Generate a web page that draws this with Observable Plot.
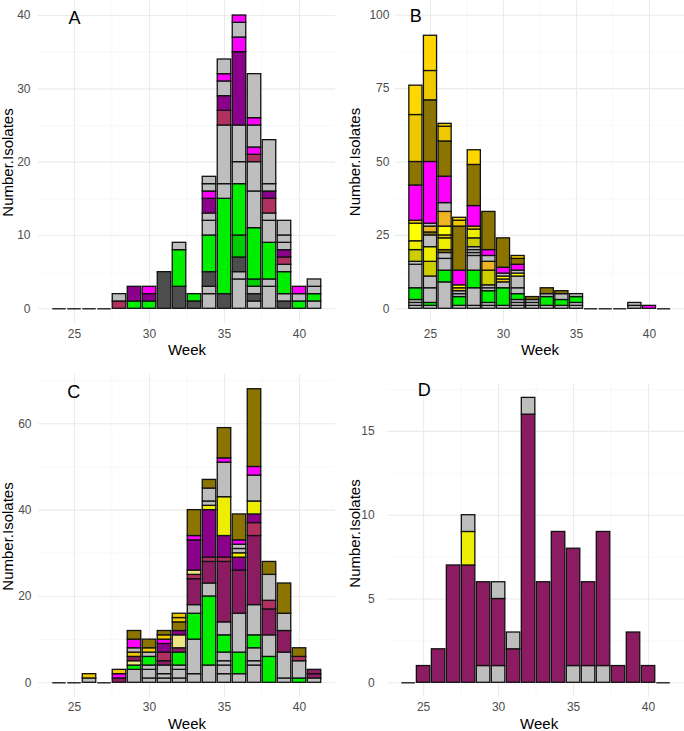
<!DOCTYPE html>
<html><head><meta charset="utf-8">
<script src="https://cdn.jsdelivr.net/npm/d3@7"></script>
<script src="https://cdn.jsdelivr.net/npm/@observablehq/plot@0.6"></script>
<style>
body{margin:0;background:#fff;}
#wrap{position:relative;width:684px;height:731px;overflow:hidden;font-family:"Liberation Sans",Arial,sans-serif;}
.panel{position:absolute;}
</style></head><body><div id="wrap"></div>
<script>
const weeks = [24,25,26,27,28,29,30,31,32,33,34,35,36,37,38,39,40,41];
const categories = ["gray","dkgray","green","green3","purple","magenta","maroon","maroon4","olive","gold","gold2","yellow","yellow2","yellow3","orange","khaki"];
const categoryColors = ["#BEBEBE","#4D4D4D","#00EE00","#00CD00","#8B008B","#FF00FF","#B03060","#8B1C62","#8B7500","#FFD700","#EEC900","#FFFF00","#EEEE00","#CDCD00","#EEB422","#EEE685"];
const xTicks = [25,30,35,40];
const xMinor = [27.5,32.5,37.5];

// [week, category, count], bottom to top
const segA = [
[28,"maroon",1],[28,"gray",1],
[29,"green",1],[29,"purple",2],
[30,"green",1],[30,"purple",1],[30,"magenta",1],
[31,"dkgray",5],
[32,"dkgray",3],[32,"green",5],[32,"gray",1],
[33,"dkgray",1],[33,"green",1],
[34,"gray",2],[34,"gray",1],[34,"dkgray",2],[34,"green",5],[34,"gray",2],[34,"gray",1],[34,"purple",2],[34,"magenta",1],[34,"gray",1],[34,"gray",1],
[35,"dkgray",2],[35,"green",13],[35,"gray",2],[35,"gray",8],[35,"maroon",2],[35,"purple",2],[35,"gray",2],[35,"magenta",1],[35,"gray",2],
[36,"gray",4],[36,"gray",1],[36,"dkgray",2],[36,"green3",3],[36,"green",7],[36,"gray",3],[36,"gray",5],[36,"purple",10],[36,"magenta",2],[36,"gray",2],[36,"magenta",1],
[37,"gray",1],[37,"dkgray",1],[37,"gray",1],[37,"green3",1],[37,"green",7],[37,"gray",5],[37,"gray",4],[37,"maroon",1],[37,"magenta",1],[37,"gray",3],[37,"magenta",1],[37,"gray",6],
[38,"gray",3],[38,"gray",1],[38,"green",5],[38,"gray",3],[38,"gray",1],[38,"maroon",2],[38,"purple",1],[38,"gray",1],[38,"gray",6],
[39,"dkgray",1],[39,"gray",1],[39,"green",3],[39,"gray",1],[39,"maroon",1],[39,"purple",1],[39,"gray",1],[39,"gray",1],[39,"gray",2],
[40,"green",1],[40,"gray",1],[40,"magenta",1],
[41,"gray",1],[41,"green",1],[41,"gray",1],[41,"gray",1]
];
const segB = [
[24,"gray",1],[24,"gray",1],[24,"gray",1],[24,"green",4],[24,"gray",8],[24,"gray",1],[24,"yellow3",4],[24,"yellow2",3],[24,"yellow",6],[24,"gold2",1],[24,"magenta",12],[24,"olive",8],[24,"gold2",16],[24,"gold",10],
[25,"gray",1],[25,"green",1],[25,"gray",5],[25,"gray",4],[25,"yellow3",5],[25,"yellow2",5],[25,"gray",4],[25,"olive",1],[25,"orange",2],[25,"gray",1],[25,"magenta",21],[25,"olive",21],[25,"gold2",10],[25,"gold",12],
[26,"gray",9],[26,"green",4],[26,"gray",4],[26,"gray",2],[26,"olive",1],[26,"yellow2",4],[26,"gold2",1],[26,"yellow",3],[26,"orange",5],[26,"gray",3],[26,"magenta",9],[26,"olive",12],[26,"gold2",5],[26,"gold2",1],
[27,"gray",1],[27,"green",3],[27,"gray",1],[27,"gray",1],[27,"gold2",1],[27,"yellow",1],[27,"magenta",5],[27,"olive",15],[27,"gold2",2],[27,"gold",1],
[28,"gray",1],[28,"gray",6],[28,"green",6],[28,"gray",5],[28,"gray",1],[28,"gray",1],[28,"gray",1],[28,"yellow3",3],[28,"yellow2",3],[28,"gold2",1],[28,"magenta",7],[28,"olive",14],[28,"gold",5],
[29,"gray",1],[29,"gray",1],[29,"green",4],[29,"gray",1],[29,"gray",1],[29,"yellow3",5],[29,"orange",3],[29,"gray",2],[29,"magenta",2],[29,"olive",13],
[30,"gray",1],[30,"green",6],[30,"gray",2],[30,"gold2",1],[30,"yellow",1],[30,"gray",1],[30,"magenta",2],[30,"olive",10],
[31,"gray",1],[31,"gray",1],[31,"gray",1],[31,"green",2],[31,"gray",2],[31,"gray",4],[31,"yellow",1],[31,"gray",1],[31,"magenta",2],[31,"olive",2],[31,"gold2",1],
[32,"gray",1],[32,"gray",1],[32,"gray",1],[32,"olive",1],
[33,"gray",1],[33,"green",3],[33,"gray",1],[33,"olive",2],
[34,"gray",1],[34,"green",2],[34,"gray",2],[34,"olive",1],
[35,"gray",1],[35,"gray",1],[35,"green",2],[35,"gray",1],
[39,"gray",1],[39,"gray",1],
[40,"magenta",1]
];
const segC = [
[26,"gray",1],[26,"gold2",1],
[28,"maroon4",1],[28,"magenta",1],[28,"gold2",1],
[29,"gray",3],[29,"green",1],[29,"khaki",1],[29,"maroon4",1],[29,"gold2",1],[29,"gray",1],[29,"magenta",2],[29,"olive",2],
[30,"gray",1],[30,"gray",2],[30,"gray",1],[30,"green",2],[30,"gray",1],[30,"gold2",1],[30,"olive",2],
[31,"gray",1],[31,"gray",1],[31,"gray",2],[31,"maroon4",1],[31,"maroon",2],[31,"purple",2],[31,"magenta",1],[31,"gold2",1],[31,"olive",1],
[32,"gray",1],[32,"gray",2],[32,"gray",1],[32,"green",3],[32,"maroon4",1],[32,"khaki",3],[32,"purple",1],[32,"olive",2],[32,"gold2",1],[32,"gold2",1],
[33,"gray",2],[33,"gray",8],[33,"green",6],[33,"gray",2],[33,"maroon4",6],[33,"maroon",1],[33,"khaki",1],[33,"purple",7],[33,"magenta",1],[33,"olive",6],
[34,"gray",4],[34,"green",16],[34,"gray",3],[34,"maroon4",5],[34,"maroon",1],[34,"purple",11],[34,"yellow2",1],[34,"gray",1],[34,"gray",3],[34,"olive",2],
[35,"gray",2],[35,"gray",2],[35,"gray",1],[35,"gray",2],[35,"green",4],[35,"gray",3],[35,"maroon4",14],[35,"maroon",1],[35,"purple",5],[35,"yellow2",9],[35,"gray",8],[35,"magenta",1],[35,"olive",7],
[36,"gray",2],[36,"green",5],[36,"gray",9],[36,"maroon4",10],[36,"purple",3],[36,"yellow2",1],[36,"gray",1],[36,"gray",1],[36,"magenta",1],[36,"olive",6],
[37,"gray",4],[37,"gray",1],[37,"gray",3],[37,"green",3],[37,"gray",7],[37,"maroon4",16],[37,"maroon",3],[37,"purple",2],[37,"yellow2",3],[37,"gray",6],[37,"magenta",2],[37,"olive",18],
[38,"green",6],[38,"gray",5],[38,"maroon4",6],[38,"maroon",2],[38,"gray",6],[38,"olive",3],
[39,"gray",1],[39,"gray",6],[39,"maroon4",5],[39,"gray",4],[39,"olive",7],
[40,"green",1],[40,"gray",4],[40,"maroon",1],[40,"olive",2],
[41,"gray",1],[41,"maroon4",1],[41,"maroon4",1]
];
const segD = [
[25,"maroon4",1],
[26,"maroon4",2],
[27,"maroon4",7],
[28,"maroon4",7],[28,"yellow2",2],[28,"gray",1],
[29,"gray",1],[29,"maroon4",5],
[30,"gray",1],[30,"maroon4",4],[30,"gray",1],
[31,"maroon4",2],[31,"gray",1],
[32,"maroon4",16],[32,"gray",1],
[33,"maroon4",6],
[34,"maroon4",9],
[35,"gray",1],[35,"maroon4",7],
[36,"gray",1],[36,"maroon4",5],
[37,"gray",1],[37,"maroon4",8],
[38,"maroon4",1],
[39,"maroon4",3],
[40,"maroon4",1]
];
const tagsText = ["A","B","C","D"];
const yTicksA = [0,10,20,30,40], yMinorA = [5,15,25,35];
const yTicksB = [0,25,50,75,100], yMinorB = [12.5,37.5,62.5,87.5];
const yTicksC = [0,20,40,60], yMinorC = [10,30,50,70];
const yTicksD = [0,5,10,15], yMinorD = [2.5,7.5,12.5,17.5];

const colorOf = new Map(categories.map((c,i)=>[c, categoryColors[i]]));
const xDomain = [22.6, 42.4];
const font = "Liberation Sans, Arial, sans-serif";

function build(cfg){
  const rows = [];
  const tops = new Map();
  for (const [w,c,n] of cfg.segs){
    const y1 = tops.get(w) || 0;
    rows.push({week:w, fill:colorOf.get(c), y1, y2:y1+n});
    tops.set(w, y1+n);
  }
  const zeros = weeks.filter(w => !tops.has(w));
  const ml = cfg.x25 - (25 - xDomain[0]) * cfg.pxw;
  const mr = Math.max(0, cfg.width - (cfg.x25 + (xDomain[1] - 25) * cfg.pxw));
  const mt = cfg.y0 - cfg.yDomain[1] * cfg.pxu;
  const mb = cfg.height - (cfg.y0 - cfg.yDomain[0] * cfg.pxu);
  const at = (px, py) => ({frameAnchor:"top-left", dx: px - ml, dy: py - mt});
  const gridStyle = {strokeOpacity:1};
  return Plot.plot({
    width: cfg.width, height: cfg.height,
    marginLeft: ml, marginRight: mr, marginTop: mt, marginBottom: mb,
    x: {domain: xDomain, axis: null},
    y: {domain: cfg.yDomain, axis: null},
    color: {type: "identity"},
    style: {background:"transparent", overflow:"visible", fontFamily: font},
    marks: [
      Plot.gridX(xMinor, {...gridStyle, stroke:"#f3f3f3", strokeWidth:0.6}),
      Plot.gridY(cfg.yMinor, {...gridStyle, stroke:"#f3f3f3", strokeWidth:0.6}),
      Plot.gridX(xTicks, {...gridStyle, stroke:"#ebebeb", strokeWidth:1.1}),
      Plot.gridY(cfg.yTicks, {...gridStyle, stroke:"#ebebeb", strokeWidth:1.1}),
      Plot.axisX(xTicks, {tickSize:0, tickPadding:cfg.xPad, fontSize:12, color:"#4d4d4d", label:null}),
      Plot.axisY(cfg.yTicks, {tickSize:0, tickPadding:cfg.yPad, fontSize:12, color:"#4d4d4d", label:null}),
      Plot.rect(rows, {x1: d => d.week - 0.45, x2: d => d.week + 0.45, y1:"y1", y2:"y2", fill:"fill", stroke:"#111", strokeWidth:1.3}),
      Plot.ruleY(zeros, {y: 0, x1: d => d - 0.45, x2: d => d + 0.45, stroke:"#111", strokeWidth:1.3}),
      Plot.text([cfg.tag], {...at(cfg.tagPos[0], cfg.tagPos[1]), text: d => d, textAnchor:"middle", lineAnchor:"middle", fontSize:18, fill:"#000"}),
      Plot.text(["Week"], {...at(cfg.weekPos[0], cfg.weekPos[1]), text: d => d, textAnchor:"middle", lineAnchor:"middle", fontSize:15, fill:"#000"}),
      Plot.text(["Number.Isolates"], {...at(cfg.yTitlePos[0], cfg.yTitlePos[1]), text: d => d, textAnchor:"middle", lineAnchor:"middle", rotate:-90, fontSize:15, fill:"#000"})
    ]
  });
}

const panels = [
  {left:0, top:0, width:342, height:365, segs:segA, tag:tagsText[0], x25:74, pxw:15.0, y0:308.3, pxu:7.3325, yDomain:[-2,42], yTicks:yTicksA, yMinor:yMinorA, xPad:6, yPad:8, tagPos:[74,17.5], weekPos:[186.5,350], yTitlePos:[7.5,162]},
  {left:342, top:0, width:342, height:365, segs:segB, tag:tagsText[1], x25:88, pxw:14.6, y0:308.3, pxu:2.936, yDomain:[-5,105], yTicks:yTicksB, yMinor:yMinorB, xPad:6, yPad:6, tagPos:[73.3,16], weekPos:[197.5,350], yTitlePos:[13,161.5]},
  {left:0, top:350, width:342, height:381, segs:segC, tag:tagsText[2], x25:74, pxw:15.0, y0:332.3, pxu:4.317, yDomain:[-3.4,71.4], yTicks:yTicksC, yMinor:yMinorC, xPad:5, yPad:7, tagPos:[73.3,41.7], weekPos:[186.5,374], yTitlePos:[8,186]},
  {left:342, top:350, width:342, height:381, segs:segD, tag:tagsText[3], x25:81.2, pxw:15.03, y0:332.3, pxu:16.76, yDomain:[-0.85,17.85], yTicks:yTicksD, yMinor:yMinorD, xPad:5, yPad:13, tagPos:[81.7,40], weekPos:[196.6,374], yTitlePos:[13,183]}
];

const wrap = document.getElementById("wrap");
for (const p of panels){
  const div = document.createElement("div");
  div.className = "panel";
  div.style.left = p.left + "px";
  div.style.top = p.top + "px";
  div.appendChild(build(p));
  wrap.appendChild(div);
}
</script>
</body></html>
